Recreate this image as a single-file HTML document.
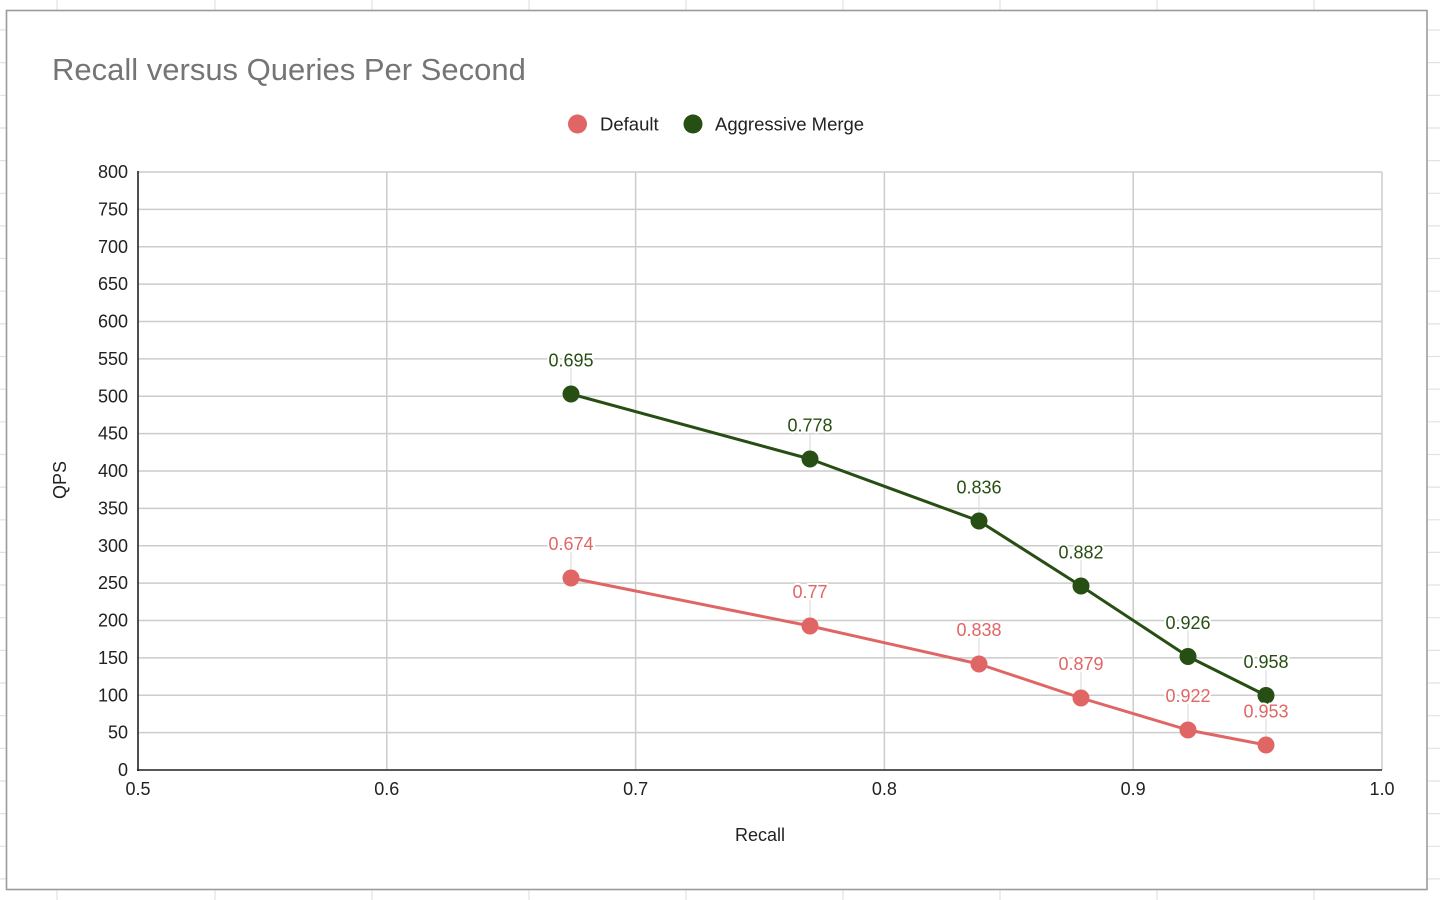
<!DOCTYPE html>
<html>
<head>
<meta charset="utf-8">
<style>
  html, body { margin: 0; padding: 0; width: 1440px; height: 900px; overflow: hidden; background: #ffffff; }
  svg { display: block; }
  text { font-family: "Liberation Sans", Arial, sans-serif; }
</style>
</head>
<body>
<svg width="1440" height="900" viewBox="0 0 1440 900" xmlns="http://www.w3.org/2000/svg">
  <!-- spreadsheet background grid -->
  <g stroke="#e1e2e3" stroke-width="1.2">
    <line x1="57" y1="0" x2="57" y2="900"/>
    <line x1="215" y1="0" x2="215" y2="900"/>
    <line x1="372" y1="0" x2="372" y2="900"/>
    <line x1="529" y1="0" x2="529" y2="900"/>
    <line x1="686" y1="0" x2="686" y2="900"/>
    <line x1="843" y1="0" x2="843" y2="900"/>
    <line x1="1000" y1="0" x2="1000" y2="900"/>
    <line x1="1157" y1="0" x2="1157" y2="900"/>
    <line x1="1314" y1="0" x2="1314" y2="900"/>
    <line x1="0" y1="30" x2="1440" y2="30"/>
    <line x1="0" y1="62.6" x2="1440" y2="62.6"/>
    <line x1="0" y1="95.3" x2="1440" y2="95.3"/>
    <line x1="0" y1="128" x2="1440" y2="128"/>
    <line x1="0" y1="160.6" x2="1440" y2="160.6"/>
    <line x1="0" y1="193.3" x2="1440" y2="193.3"/>
    <line x1="0" y1="225.9" x2="1440" y2="225.9"/>
    <line x1="0" y1="258.5" x2="1440" y2="258.5"/>
    <line x1="0" y1="291.2" x2="1440" y2="291.2"/>
    <line x1="0" y1="323.9" x2="1440" y2="323.9"/>
    <line x1="0" y1="356.5" x2="1440" y2="356.5"/>
    <line x1="0" y1="389.2" x2="1440" y2="389.2"/>
    <line x1="0" y1="421.8" x2="1440" y2="421.8"/>
    <line x1="0" y1="454.5" x2="1440" y2="454.5"/>
    <line x1="0" y1="487.1" x2="1440" y2="487.1"/>
    <line x1="0" y1="519.8" x2="1440" y2="519.8"/>
    <line x1="0" y1="552.4" x2="1440" y2="552.4"/>
    <line x1="0" y1="585" x2="1440" y2="585"/>
    <line x1="0" y1="617.7" x2="1440" y2="617.7"/>
    <line x1="0" y1="650.4" x2="1440" y2="650.4"/>
    <line x1="0" y1="683" x2="1440" y2="683"/>
    <line x1="0" y1="715.7" x2="1440" y2="715.7"/>
    <line x1="0" y1="748.3" x2="1440" y2="748.3"/>
    <line x1="0" y1="781" x2="1440" y2="781"/>
    <line x1="0" y1="813.6" x2="1440" y2="813.6"/>
    <line x1="0" y1="846.3" x2="1440" y2="846.3"/>
    <line x1="0" y1="878.9" x2="1440" y2="878.9"/>
  </g>

  <!-- chart card -->
  <rect x="6.5" y="10.5" width="1420.5" height="879" fill="#ffffff" stroke="#9b9b9b" stroke-width="1.6"/>

  <!-- title -->
  <text x="52" y="80" font-size="31" fill="#757575">Recall versus Queries Per Second</text>

  <!-- legend -->
  <circle cx="577.5" cy="124" r="9.5" fill="#e06666"/>
  <text x="600" y="130.5" font-size="18.5" fill="#222222">Default</text>
  <circle cx="693" cy="124" r="9.5" fill="#274e13"/>
  <text x="715" y="130.5" font-size="18.5" fill="#222222">Aggressive Merge</text>

  <!-- gridlines -->
  <g stroke="#cccccc" stroke-width="1.5">
    <line x1="138" y1="172" x2="1382" y2="172"/>
    <line x1="138" y1="209.4" x2="1382" y2="209.4"/>
    <line x1="138" y1="246.8" x2="1382" y2="246.8"/>
    <line x1="138" y1="284.1" x2="1382" y2="284.1"/>
    <line x1="138" y1="321.5" x2="1382" y2="321.5"/>
    <line x1="138" y1="358.9" x2="1382" y2="358.9"/>
    <line x1="138" y1="396.3" x2="1382" y2="396.3"/>
    <line x1="138" y1="433.6" x2="1382" y2="433.6"/>
    <line x1="138" y1="471" x2="1382" y2="471"/>
    <line x1="138" y1="508.4" x2="1382" y2="508.4"/>
    <line x1="138" y1="545.8" x2="1382" y2="545.8"/>
    <line x1="138" y1="583.1" x2="1382" y2="583.1"/>
    <line x1="138" y1="620.5" x2="1382" y2="620.5"/>
    <line x1="138" y1="657.9" x2="1382" y2="657.9"/>
    <line x1="138" y1="695.3" x2="1382" y2="695.3"/>
    <line x1="138" y1="732.6" x2="1382" y2="732.6"/>
    <line x1="386.8" y1="172" x2="386.8" y2="770"/>
    <line x1="635.6" y1="172" x2="635.6" y2="770"/>
    <line x1="884.4" y1="172" x2="884.4" y2="770"/>
    <line x1="1133.2" y1="172" x2="1133.2" y2="770"/>
    <line x1="1382" y1="172" x2="1382" y2="770"/>
  </g>

  <!-- axes -->
  <line x1="138" y1="171" x2="138" y2="771" stroke="#222222" stroke-width="1.6"/>
  <line x1="137" y1="770" x2="1382" y2="770" stroke="#222222" stroke-width="1.6"/>

  <!-- y tick labels -->
  <g font-size="18" fill="#222222" text-anchor="end">
    <text x="128" y="178">800</text>
    <text x="128" y="215.4">750</text>
    <text x="128" y="252.8">700</text>
    <text x="128" y="290.1">650</text>
    <text x="128" y="327.5">600</text>
    <text x="128" y="364.9">550</text>
    <text x="128" y="402.3">500</text>
    <text x="128" y="439.6">450</text>
    <text x="128" y="477">400</text>
    <text x="128" y="514.4">350</text>
    <text x="128" y="551.8">300</text>
    <text x="128" y="589.1">250</text>
    <text x="128" y="626.5">200</text>
    <text x="128" y="663.9">150</text>
    <text x="128" y="701.3">100</text>
    <text x="128" y="738.6">50</text>
    <text x="128" y="776">0</text>
  </g>

  <!-- x tick labels -->
  <g font-size="18" fill="#222222" text-anchor="middle">
    <text x="138" y="795">0.5</text>
    <text x="386.8" y="795">0.6</text>
    <text x="635.6" y="795">0.7</text>
    <text x="884.4" y="795">0.8</text>
    <text x="1133.2" y="795">0.9</text>
    <text x="1382" y="795">1.0</text>
  </g>

  <!-- axis titles -->
  <text x="760" y="841" font-size="18" fill="#222222" text-anchor="middle">Recall</text>
  <text transform="translate(66,480) rotate(-90)" font-size="18" fill="#222222" text-anchor="middle">QPS</text>

  <!-- leader lines -->
  <g stroke="#dddddd" stroke-width="1.2">
    <line x1="571" y1="368" x2="571" y2="386"/>
    <line x1="810" y1="433" x2="810" y2="451"/>
    <line x1="979" y1="495" x2="979" y2="513"/>
    <line x1="1081" y1="560" x2="1081" y2="578"/>
    <line x1="1188" y1="630" x2="1188" y2="648"/>
    <line x1="1266" y1="670" x2="1266" y2="687"/>
    <line x1="571" y1="552" x2="571" y2="570"/>
    <line x1="810" y1="600" x2="810" y2="618"/>
    <line x1="979" y1="638" x2="979" y2="656"/>
    <line x1="1081" y1="672" x2="1081" y2="690"/>
    <line x1="1188" y1="704" x2="1188" y2="722"/>
    <line x1="1266" y1="719" x2="1266" y2="737"/>
  </g>

  <!-- Default series -->
  <polyline points="571,578 810,626 979,664 1081,698 1188,730 1266,745" fill="none" stroke="#e06666" stroke-width="3" stroke-linejoin="round"/>
  <g fill="#e06666">
    <circle cx="571" cy="578" r="8.5"/>
    <circle cx="810" cy="626" r="8.5"/>
    <circle cx="979" cy="664" r="8.5"/>
    <circle cx="1081" cy="698" r="8.5"/>
    <circle cx="1188" cy="730" r="8.5"/>
    <circle cx="1266" cy="745" r="8.5"/>
  </g>

  <!-- Aggressive Merge series -->
  <polyline points="571,394 810,459 979,521 1081,586 1188,656.5 1266,695.5" fill="none" stroke="#274e13" stroke-width="3" stroke-linejoin="round"/>
  <g fill="#274e13">
    <circle cx="571" cy="394" r="8.5"/>
    <circle cx="810" cy="459" r="8.5"/>
    <circle cx="979" cy="521" r="8.5"/>
    <circle cx="1081" cy="586" r="8.5"/>
    <circle cx="1188" cy="656.5" r="8.5"/>
    <circle cx="1266" cy="695.5" r="8.5"/>
  </g>

  <!-- data labels -->
  <g font-size="18" text-anchor="middle" stroke="#ffffff" stroke-width="4" paint-order="stroke" stroke-linejoin="round">
    <g fill="#274e13">
      <text x="571" y="366.5">0.695</text>
      <text x="810" y="431.5">0.778</text>
      <text x="979" y="493.5">0.836</text>
      <text x="1081" y="558.5">0.882</text>
      <text x="1188" y="629">0.926</text>
      <text x="1266" y="668">0.958</text>
    </g>
    <g fill="#e06666">
      <text x="571" y="550">0.674</text>
      <text x="810" y="598">0.77</text>
      <text x="979" y="636">0.838</text>
      <text x="1081" y="670">0.879</text>
      <text x="1188" y="702">0.922</text>
      <text x="1266" y="717.5">0.953</text>
    </g>
  </g>
</svg>
</body>
</html>
